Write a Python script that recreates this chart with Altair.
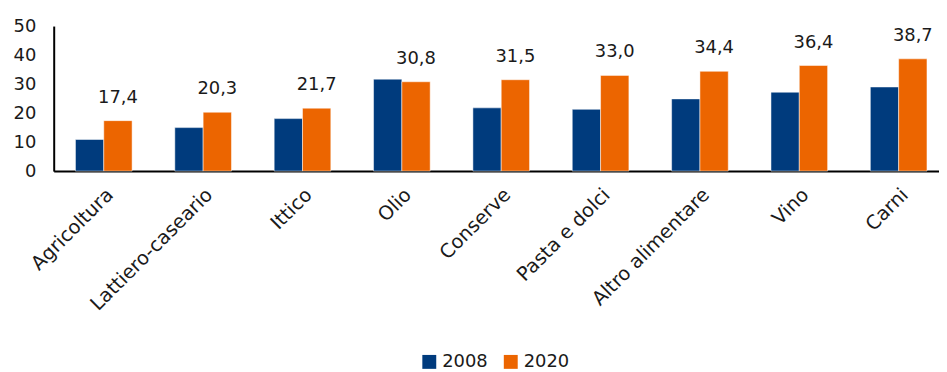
import altair as alt
import pandas as pd

categories = ["Agricoltura", "Lattiero-caseario", "Ittico", "Olio", "Conserve",
              "Pasta e dolci", "Altro alimentare", "Vino", "Carni"]
values_2008 = [10.9, 15.0, 18.1, 31.7, 21.8, 21.3, 24.9, 27.2, 29.0]
values_2020 = [17.4, 20.3, 21.7, 30.8, 31.5, 33.0, 34.4, 36.4, 38.7]
series = ["2008", "2020"]
colors = ["#003B7D", "#EC6500"]

rows = []
for c, a, b in zip(categories, values_2008, values_2020):
    rows.append({"cat": c, "serie": "2008", "val": a, "lab": ""})
    rows.append({"cat": c, "serie": "2020", "val": b, "lab": f"{b:.1f}".replace(".", ",")})
df = pd.DataFrame(rows)

FONT = "DejaVu Sans"
TXT = "#1a1a1a"

xscale = alt.Scale(domain=categories, paddingInner=0.43, paddingOuter=0.17, align=0.644)
base = alt.Chart(df).encode(
    x=alt.X("cat:N", sort=categories, scale=xscale,
            axis=alt.Axis(title=None, labelAngle=-45, ticks=False, domainColor="black",
                          domainWidth=2, labelFontSize=19.5, labelFont=FONT,
                          labelColor=TXT, labelPadding=14)),
    xOffset=alt.XOffset("serie:N", sort=series,
                        scale=alt.Scale(paddingInner=0, paddingOuter=0)),
    y=alt.Y("val:Q", scale=alt.Scale(domain=[0, 50], nice=False),
            axis=alt.Axis(title=None, values=[0, 10, 20, 30, 40, 50], grid=False,
                          ticks=False, domainColor="black", domainWidth=2,
                          labelFontSize=18, labelFont=FONT, labelColor=TXT,
                          labelPadding=18, labelOverlap=False, labelFlush=False)),
)

bars = base.mark_bar(stroke="white", strokeWidth=0.5).encode(
    color=alt.Color("serie:N", sort=series,
                    scale=alt.Scale(domain=series, range=colors),
                    legend=alt.Legend(title=None, orient="none", direction="horizontal",
                                      legendX=369, legendY=329, symbolType="square",
                                      symbolSize=196, symbolStrokeWidth=0,
                                      labelFontSize=18, labelFont=FONT, labelColor=TXT,
                                      columnPadding=14, labelOffset=4)),
)

text = base.mark_text(baseline="bottom", dy=-14, fontSize=18, font=FONT, color=TXT).encode(
    text="lab:N",
)

chart = alt.layer(bars, text).properties(
    width=891, height=146,
    autosize=alt.AutoSizeParams(type="none"),
    padding={"left": 46, "top": 17, "right": 0, "bottom": 201},
).configure_view(stroke=None)

chart.save("out.html", embed_options={"renderer": "svg", "actions": False})
